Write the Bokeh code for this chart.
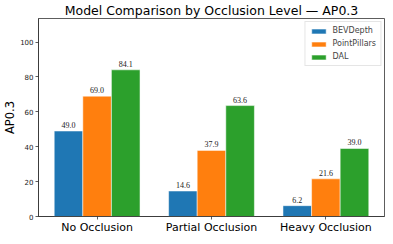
import numpy as np
from bokeh.plotting import figure
from bokeh.models import ColumnDataSource, Range1d, FixedTicker, LabelSet, Legend, LegendItem
from bokeh.embed import file_html
from bokeh.resources import INLINE

categories = ["No Occlusion", "Partial Occlusion", "Heavy Occlusion"]
models = ["BEVDepth", "PointPillars", "DAL"]
bevdepth = [49.0, 14.6, 6.2]
pointpillars = [69.0, 37.9, 21.6]
dal = [84.1, 63.6, 39.0]
colors = ["#1f77b4", "#ff7f0e", "#2ca02c"]
y_ticks = [0, 20, 40, 60, 80, 100]

series = [bevdepth, pointpillars, dal]
bar_w = 0.25
x_base = np.arange(len(categories))
ymax = max(dal) * 1.35

FONT = "DejaVu Sans"
AXC = "#333333"

p = figure(width=385, height=236, output_backend="svg", toolbar_location=None,
           x_range=Range1d(-0.5125, 2.5125), y_range=Range1d(0, ymax),
           title="Model Comparison by Occlusion Level \u2014 AP0.3",
           min_border_left=29, min_border_right=1, min_border_top=10, min_border_bottom=0)

p.title.align = "center"
p.title.text_font = FONT
p.title.text_font_size = "12.5px"
p.title.text_font_style = "normal"
p.title.text_color = "black"
p.title.standoff = 1
p.title.offset = 0

items = []
for i, (name, vals, col) in enumerate(zip(models, series, colors)):
    xs = x_base + (i - 1) * bar_w
    src = ColumnDataSource(dict(x=xs, top=vals, lab=["%.1f" % v for v in vals]))
    r = p.vbar(x="x", top="top", width=bar_w, bottom=0, source=src,
               fill_color=col, line_color="white", line_width=0.5)
    items.append(LegendItem(label=name, renderers=[r]))
    ls = LabelSet(x="x", y="top", text="lab", source=src, text_align="center",
                  text_baseline="alphabetic", y_offset=3, text_font_size="8px",
                  text_font=FONT, text_color="#222222")
    p.add_layout(ls)

legend = Legend(items=items, location="top_right")
legend.label_text_font_size = "8px"
legend.label_text_font = FONT
legend.glyph_width = 18
legend.glyph_height = 6
legend.label_height = 8
legend.label_standoff = 5
legend.spacing = 4
legend.padding = 4
legend.margin = 3
legend.border_line_color = "#cccccc"
legend.border_line_width = 0.8
legend.background_fill_alpha = 0.9
p.add_layout(legend)

p.xgrid.visible = False
p.ygrid.visible = False
p.outline_line_color = AXC
p.outline_line_width = 0.8

p.xaxis.ticker = FixedTicker(ticks=list(x_base))
p.xaxis.major_label_overrides = {int(i): c for i, c in zip(x_base, categories)}
p.xaxis.major_label_text_font_size = "11px"
p.xaxis.major_label_text_font = FONT
p.xaxis.major_label_text_color = "black"
p.xaxis.major_label_standoff = 1
p.xaxis.minor_tick_line_color = None

p.yaxis.ticker = FixedTicker(ticks=y_ticks)
p.yaxis.major_label_text_font_size = "7px"
p.yaxis.major_label_text_font = FONT
p.yaxis.major_label_text_color = "#222222"
p.yaxis.major_label_standoff = 2
p.yaxis.minor_tick_line_color = None
p.yaxis.axis_label = "AP0.3"
p.yaxis.axis_label_text_font = FONT
p.yaxis.axis_label_text_font_size = "11.5px"
p.yaxis.axis_label_text_font_style = "normal"
p.yaxis.axis_label_text_color = "black"
p.yaxis.axis_label_standoff = 0

for ax in (p.xaxis, p.yaxis):
    ax.axis_line_color = AXC
    ax.axis_line_width = 0.8
    ax.major_tick_line_color = AXC
    ax.major_tick_line_width = 0.8
    ax.major_tick_out = 3
    ax.major_tick_in = 0

open("out.html", "w").write(file_html(p, INLINE))
